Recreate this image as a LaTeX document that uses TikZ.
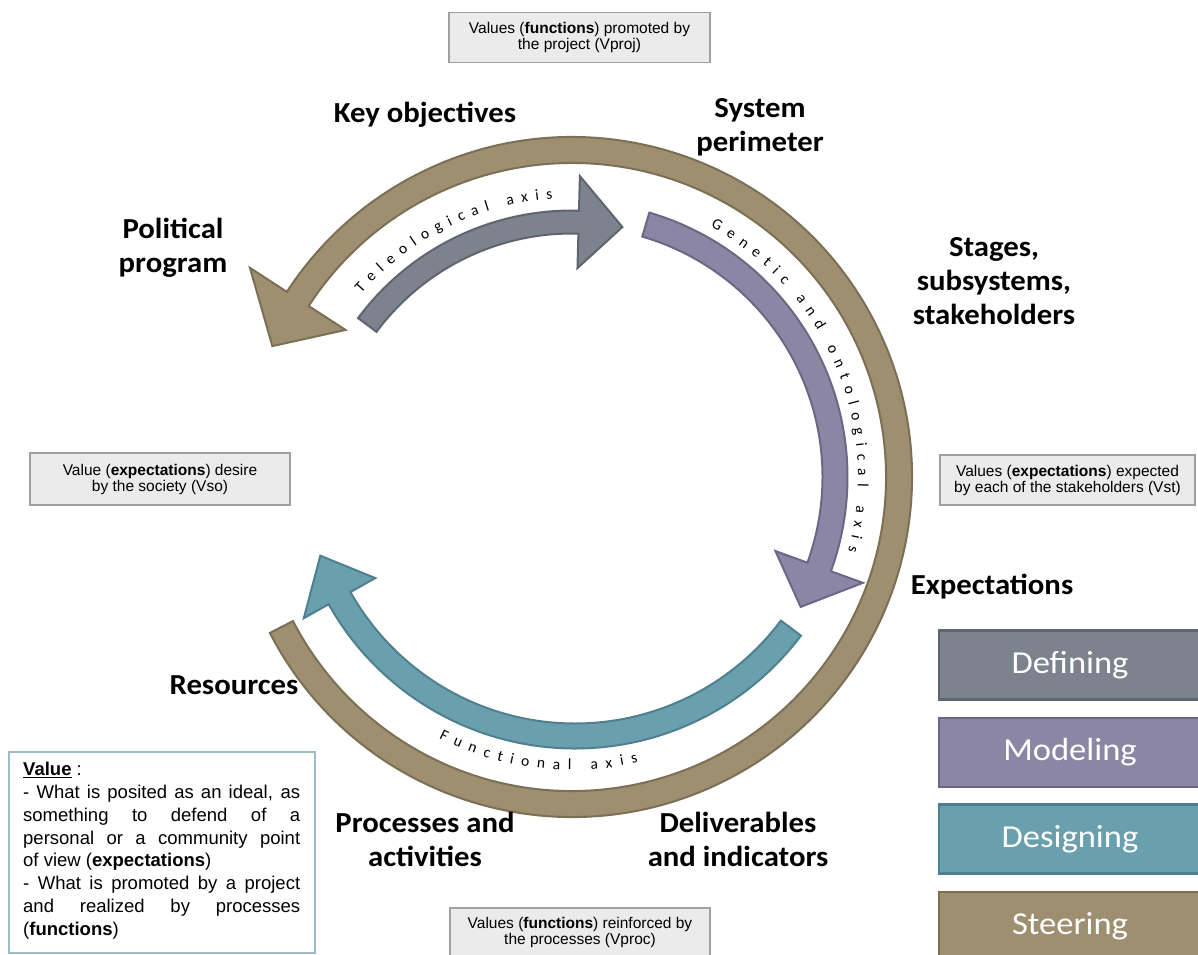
\documentclass[tikz,border=0pt]{standalone}
\usepackage{graphicx}
\usepackage{fontspec}
\setmainfont{Liberation Sans}
\newfontfamily\carlito{Carlito}
\usetikzlibrary{decorations.text}
\definecolor{brownF}{HTML}{9D8F70}\definecolor{brownD}{HTML}{7B6F55}
\definecolor{grayF}{HTML}{7D838D}\definecolor{grayD}{HTML}{5F656E}
\definecolor{purpF}{HTML}{8B86A4}\definecolor{purpD}{HTML}{6B6787}
\definecolor{tealF}{HTML}{6A9FAE}\definecolor{tealD}{HTML}{4F8090}
\definecolor{boxF}{HTML}{EBEBEB}\definecolor{boxD}{HTML}{A0A0A0}
\definecolor{valD}{HTML}{9DBBCB}
\newcommand{\curvarrow}[9]{%
 \begin{scope}[shift={(#1,#2)}]
 \filldraw[#9] ({#5}:{#3+#4}) arc[start angle={#5}, end angle={#6}, radius={#3+#4}]
 -- ({#6}:{#3+#8}) -- ({#7}:{#3}) -- ({#6}:{#3-#8}) -- ({#6}:{#3-#4})
 arc[start angle={#6}, end angle={#5}, radius={#3-#4}] -- cycle;
 \end{scope}}
\newcommand{\legtext}[1]{\scalebox{1.08}[1]{#1}}
\tikzset{
 lbl/.style={font=\carlito\bfseries\fontsize{29}{34}\selectfont, align=center, inner sep=0pt, xscale=1.06},
 gbox/.style={draw=boxD, fill=boxF, line width=1.2pt, font=\fontsize{15.5}{16}\selectfont, align=center, inner sep=0pt},
 legbox/.style={line width=2.5pt, minimum width=262pt, minimum height=69pt, text=white, font=\carlito\fontsize{32}{32}\selectfont},
 arrowline/.style={line width=2pt, line join=miter},
 axistext/.style={decorate, decoration={text along path, text align={fit to path}, text={|\carlito\fontsize{15.5}{15.5}\selectfont|#1}}}
}
\begin{document}
\begin{tikzpicture}[x=1pt,y=1pt]
\useasboundingbox (0,0) rectangle (1198,-954);
% steering ring
\curvarrow{572}{-477}{327}{13}{207.3}{507}{516.4}{57}{arrowline, fill=brownF, draw=brownD}
% defining
\curvarrow{572}{-477}{255}{11.5}{143.4}{88.5}{78.6}{46}{arrowline, fill=grayF, draw=grayD}
% modeling
\curvarrow{572}{-477}{263}{12.5}{73.7}{-20}{-29.6}{46.5}{arrowline, fill=purpF, draw=purpD}
% designing
\curvarrow{575}{-466}{270}{12.5}{-36.9}{-150.7}{-160.6}{41}{arrowline, fill=tealF, draw=tealD}
% axis texts
\path[axistext={Teleological axis}] (572,-477) ++(139:279) arc[start angle=139, end angle=94, radius=279];
\path[axistext={Genetic and ontological axis}] (572,-477) ++(61:286) arc[start angle=61, end angle=-15, radius=286];
\path[axistext={Functional axis}] (572,-477) ++(243:293) arc[start angle=243, end angle=283, radius=293];
% labels
\node[lbl] (keyobj) at (425,-115) {Key objectives};
\node[lbl] (sysper) at (760,-127) {System\\perimeter};
\node[lbl] (polprog) at (173,-248) {Political\\program};
\node[lbl] (stages) at (994,-281) {Stages,\\subsystems,\\stakeholders};
\node[lbl] (expect) at (992,-587) {Expectations};
\node[lbl] (resour) at (234,-685) {Resources};
\node[lbl] (procact) at (425,-839) {Processes and\\activities};
\node[lbl] (delind) at (738,-839) {Deliverables\\and indicators};
% grey value boxes
\node[gbox, minimum width=261pt, minimum height=50pt] (vproj) at (579.5,-37.5) {Values (\textbf{functions}) promoted by\\the project (Vproj)};
\node[gbox, minimum width=260pt, minimum height=52pt] (vso) at (160,-479) {Value (\textbf{expectations}) desire\\by the society (Vso)};
\node[gbox, minimum width=255pt, minimum height=50pt] (vst) at (1067.5,-480) {Values (\textbf{expectations}) expected\\by each of the stakeholders (Vst)};
\node[gbox, minimum width=260pt, minimum height=48pt] (vproc) at (580,-932) {Values (\textbf{functions}) reinforced by\\the processes (Vproc)};
% value definition box
\draw[valD, line width=1.2pt, fill=white] (9,-752) rectangle (315,-953);
\node[anchor=north west, text width=277pt, align=justify, inner sep=0pt, font=\fontsize{18.5}{22.8}\selectfont] (valdef) at (23,-762) {%
\underline{\textbf{Value}} :\par
- What is posited as an ideal, as\linebreak something to defend of a\linebreak personal or a community point\linebreak of view (\textbf{expectations})\par
- What is promoted by a project\linebreak and realized by processes\linebreak (\textbf{functions})\par};
% legend
\node[legbox, fill=grayF, draw=grayD] (ldef) at (1070,-665) {\legtext{Defining}};
\node[legbox, fill=purpF, draw=purpD] (lmod) at (1070,-752.5) {\legtext{Modeling}};
\node[legbox, fill=tealF, draw=tealD] (ldes) at (1070,-839) {\legtext{Designing}};
\node[legbox, fill=brownF, draw=brownD] (lste) at (1070,-926.5) {\legtext{Steering}};
\end{tikzpicture}
\end{document}
